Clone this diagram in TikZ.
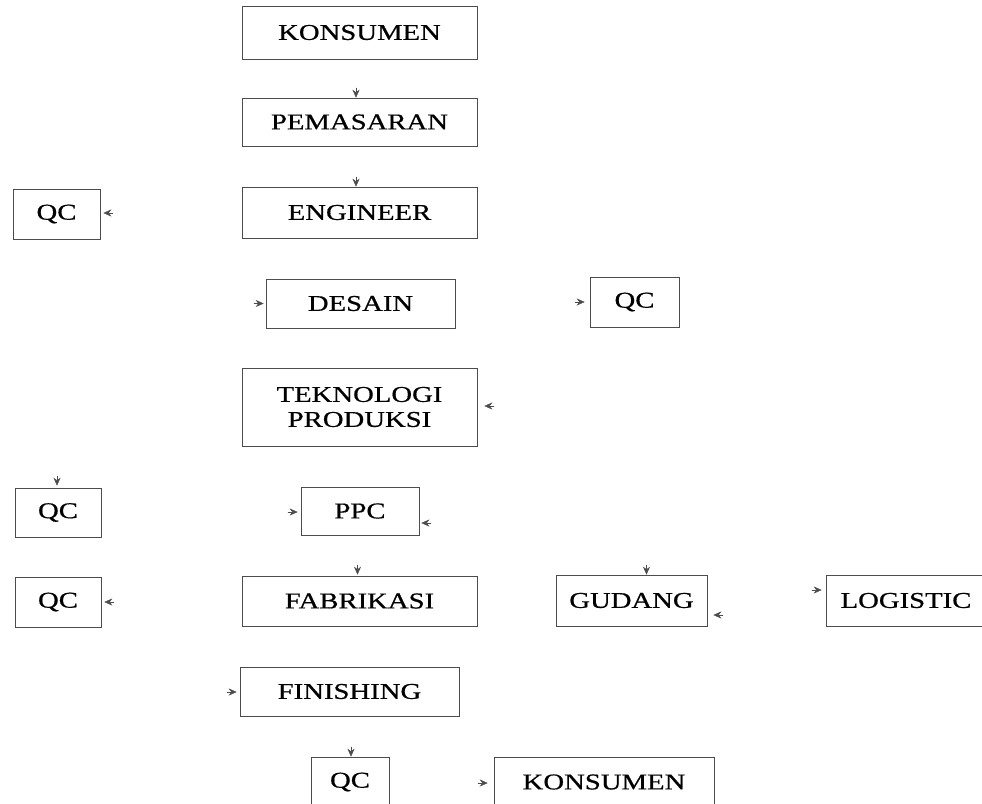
\documentclass[tikz,border=0pt]{standalone}
\usepackage{fontspec}
\setmainfont{Liberation Serif}[FakeStretch=1.27,FakeBold=0.6]
\usetikzlibrary{arrows.meta}
\begin{document}
\begin{tikzpicture}[x=1pt,y=-1pt,
  box/.style={draw=black!70, line width=0.6pt, inner sep=0pt, align=center,
    font=\fontsize{22.6}{25}\selectfont, text=black},
  tip/.style={draw=black!70, fill=black!70, line width=0.5pt,
    -{Stealth[length=8pt,width=7pt]}}]
\useasboundingbox[fill=white] (0,0) rectangle (982,803);
\node[box, minimum width=235, minimum height=53] (kon1) at (359.5,32.5) {KONSUMEN};
\node[box, minimum width=235, minimum height=48] (pem) at (359.5,122) {PEMASARAN};
\node[box, minimum width=235, minimum height=51] (eng) at (359.5,212.5) {ENGINEER};
\node[box, minimum width=87, minimum height=50] (qc1) at (56.5,214) {QC};
\node[box, minimum width=189, minimum height=49] (des) at (360.5,303.5) {DESAIN};
\node[box, minimum width=89, minimum height=50] (qc2) at (634.5,302) {QC};
\node[box, minimum width=235, minimum height=78] (tek) at (359.5,407) {TEKNOLOGI\\PRODUKSI};
\node[box, minimum width=86, minimum height=49] (qc3) at (58,512.5) {QC};
\node[box, minimum width=118, minimum height=48] (ppc) at (360,511) {PPC};
\node[box, minimum width=86, minimum height=50] (qc4) at (58,602) {QC};
\node[box, minimum width=235, minimum height=50] (fab) at (359.5,601) {FABRIKASI};
\node[box, minimum width=151, minimum height=51] (gud) at (631.5,600.5) {GUDANG};
\node[box, minimum width=160, minimum height=51] (log) at (906,600.5) {LOGISTIC};
\node[box, minimum width=219, minimum height=49] (fin) at (349.5,691.5) {FINISHING};
\node[box, minimum width=78, minimum height=50] (qc5) at (350,782) {QC};
\node[box, minimum width=220, minimum height=50] (kon2) at (604,782) {KONSUMEN};
% arrowheads (connector lines lost in the original)
\draw[tip] ([shift={(-3.5,-10)}]pem.north) -- ([shift={(-3.5,0)}]pem.north);
\draw[tip] ([shift={(-3.5,-10)}]eng.north) -- ([shift={(-3.5,0)}]eng.north);
\draw[tip] ([shift={(13,-1)}]qc1.east) -- ([shift={(3,-1)}]qc1.east);
\draw[tip] ([shift={(-12,0)}]des.west) -- ([shift={(-2,0)}]des.west);
\draw[tip] ([shift={(-15,0)}]qc2.west) -- ([shift={(-5,0)}]qc2.west);
\draw[tip] ([shift={(17,-1)}]tek.east) -- ([shift={(7,-1)}]tek.east);
\draw[tip] ([shift={(-1,-12)}]qc3.north) -- ([shift={(-1,-2)}]qc3.north);
\draw[tip] ([shift={(-13,1)}]ppc.west) -- ([shift={(-3,1)}]ppc.west);
\draw[tip] ([shift={(12,12)}]ppc.east) -- ([shift={(2,12)}]ppc.east);
\draw[tip] ([shift={(13,0)}]qc4.east) -- ([shift={(3,0)}]qc4.east);
\draw[tip] ([shift={(-2,-11)}]fab.north) -- ([shift={(-2,-1)}]fab.north);
\draw[tip] ([shift={(15,-10)}]gud.north) -- ([shift={(15,0)}]gud.north);
\draw[tip] ([shift={(16,14.5)}]gud.east) -- ([shift={(6,14.5)}]gud.east);
\draw[tip] ([shift={(-14,-10.5)}]log.west) -- ([shift={(-4,-10.5)}]log.west);
\draw[tip] ([shift={(-13,0.5)}]fin.west) -- ([shift={(-3,0.5)}]fin.west);
\draw[tip] ([shift={(1,-10)}]qc5.north) -- ([shift={(1,0)}]qc5.north);
\draw[tip] ([shift={(-16,1)}]kon2.west) -- ([shift={(-6,1)}]kon2.west);
\end{tikzpicture}
\end{document}
